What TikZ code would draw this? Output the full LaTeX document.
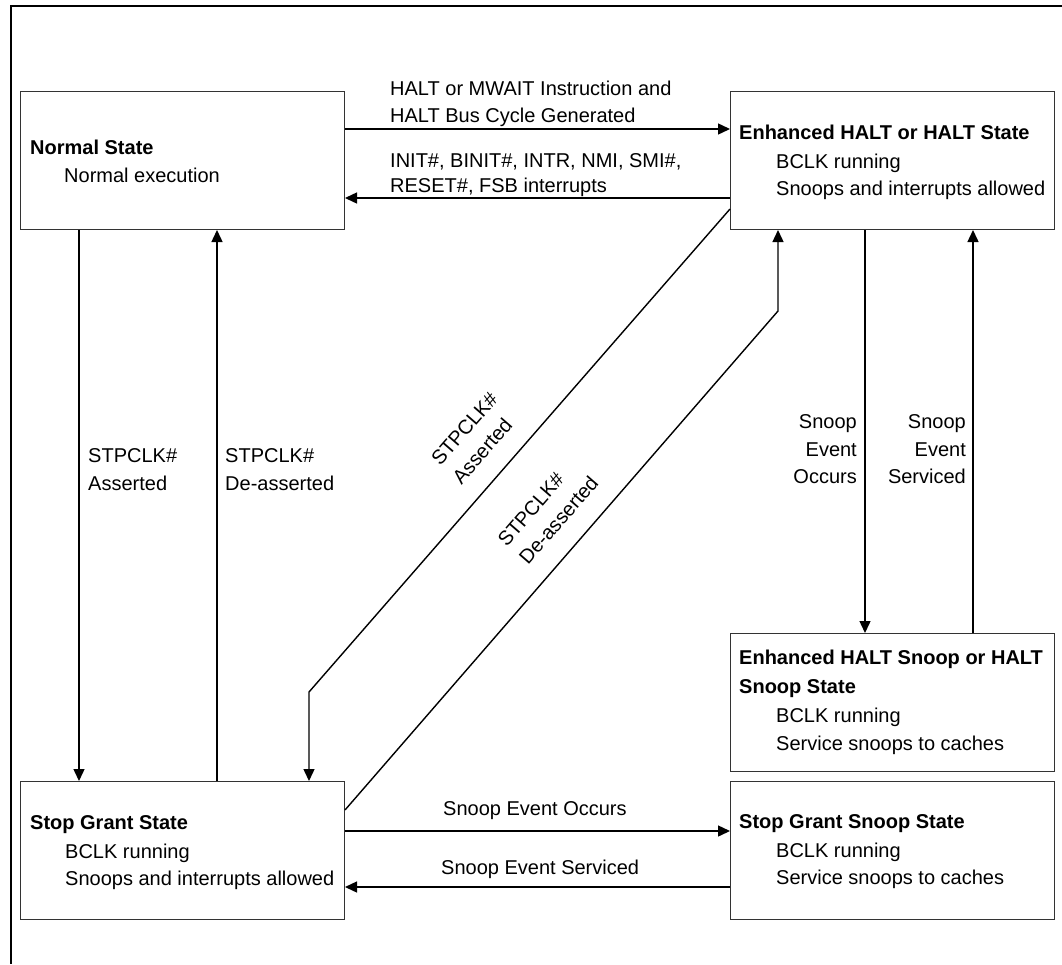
\documentclass[tikz,border=0pt]{standalone}
\usepackage{fontspec}
\setmainfont{Liberation Sans}
\usetikzlibrary{arrows.meta}
\begin{document}
\begin{tikzpicture}[x=1pt,y=-1pt,
  box/.style={draw=black!80, line width=1pt, minimum width=324pt, minimum height=138pt, anchor=north west, inner sep=0pt},
  txt/.style={font=\fontsize{20}{24}\selectfont, inner sep=0pt, anchor=base west},
  ttl/.style={font=\fontsize{20}{24}\selectfont\bfseries, inner sep=0pt, anchor=base west},
  rtxt/.style={font=\fontsize{20}{24}\selectfont, inner sep=0pt, anchor=base east},
  dtxt/.style={font=\fontsize{20}{28}\selectfont, inner sep=0pt, anchor=center, align=left, rotate=49},
  arr/.style={line width=1.4pt, -{Triangle[length=12pt,width=11pt]}},
]
\useasboundingbox (0,0) rectangle (1062,964);
\draw[line width=2pt] (1062,6) -- (11,6) -- (11,964);

% boxes
\node[box] (normal) at (20,91) {};
\node[box] (halt) at (730,91) {};
\node[box] (hsnoop) at (730,633) {};
\node[box] (sg) at (20,781) {};
\node[box] (sgs) at (730,781) {};

% box texts
\node[ttl] (normalT) at (30,154) {Normal State};
\node[txt] (normalA) at (64,182) {Normal execution};

\node[ttl] (haltT) at (739,139) {Enhanced HALT or HALT State};
\node[txt] (haltA) at (776,168) {BCLK running};
\node[txt] (haltB) at (776,195) {Snoops and interrupts allowed};

\node[ttl] (hsnoopT) at (739,664) {Enhanced HALT Snoop or HALT};
\node[ttl] (hsnoopU) at (739,693) {Snoop State};
\node[txt] (hsnoopA) at (776,722) {BCLK running};
\node[txt] (hsnoopB) at (776,750) {Service snoops to caches};

\node[ttl] (sgT) at (30,829) {Stop Grant State};
\node[txt] (sgA) at (65,858) {BCLK running};
\node[txt] (sgB) at (65,885) {Snoops and interrupts allowed};

\node[ttl] (sgsT) at (739,828) {Stop Grant Snoop State};
\node[txt] (sgsA) at (776,857) {BCLK running};
\node[txt] (sgsB) at (776,884) {Service snoops to caches};

% helper coordinates
\coordinate (y129) at (0,129);
\coordinate (y198) at (0,198);
\coordinate (y209) at (0,209);
\coordinate (y810) at (0,810);
\coordinate (y831) at (0,831);
\coordinate (y887) at (0,887);
\coordinate (x79) at (79,0);
\coordinate (x217) at (217,0);
\coordinate (x309) at (309,0);
\coordinate (x778) at (778,0);
\coordinate (x865) at (865,0);
\coordinate (x973) at (973,0);
\coordinate (bendA) at (309,692);
\coordinate (bendB) at (778,311);

% connectors
\draw[arr] (normal.east |- y129) -- (halt.west |- y129);
\draw[arr] (halt.west |- y198) -- (normal.east |- y198);
\draw[arr] (normal.south -| x79) -- (sg.north -| x79);
\draw[arr] (sg.north -| x217) -- (normal.south -| x217);
\draw[arr] (halt.west |- y209) -- (bendA) -- (sg.north -| x309);
\draw[arr] (sg.east |- y810) -- (bendB) -- (halt.south -| x778);
\draw[arr] (halt.south -| x865) -- (hsnoop.north -| x865);
\draw[arr] (hsnoop.north -| x973) -- (halt.south -| x973);
\draw[arr] (sg.east |- y831) -- (sgs.west |- y831);
\draw[arr] (sgs.west |- y887) -- (sg.east |- y887);

% connector labels
\node[txt] (l1a) at (390,95) {HALT or MWAIT Instruction and};
\node[txt] (l1b) at (390,122) {HALT Bus Cycle Generated};
\node[txt] (l2a) at (390,167) {INIT\#, BINIT\#, INTR, NMI, SMI\#,};
\node[txt] (l2b) at (390,192) {RESET\#, FSB interrupts};

\node[txt] (l3a) at (88,462) {STPCLK\#};
\node[txt] (l3b) at (88,490) {Asserted};
\node[txt] (l4a) at (225,462) {STPCLK\#};
\node[txt] (l4b) at (225,490) {De-asserted};

\node[dtxt] (l5) at (475,438) {STPCLK\#\\Asserted};
\node[dtxt] (l6) at (548,511) {STPCLK\#\\De-asserted};

\node[rtxt] (l7a) at (857,428) {Snoop};
\node[rtxt] (l7b) at (857,456) {Event};
\node[rtxt] (l7c) at (857,483) {Occurs};
\node[rtxt] (l8a) at (966,428) {Snoop};
\node[rtxt] (l8b) at (966,456) {Event};
\node[rtxt] (l8c) at (966,483) {Serviced};

\node[txt] (l9) at (443,815) {Snoop Event Occurs};
\node[txt] (l10) at (441,874) {Snoop Event Serviced};
\end{tikzpicture}
\end{document}
